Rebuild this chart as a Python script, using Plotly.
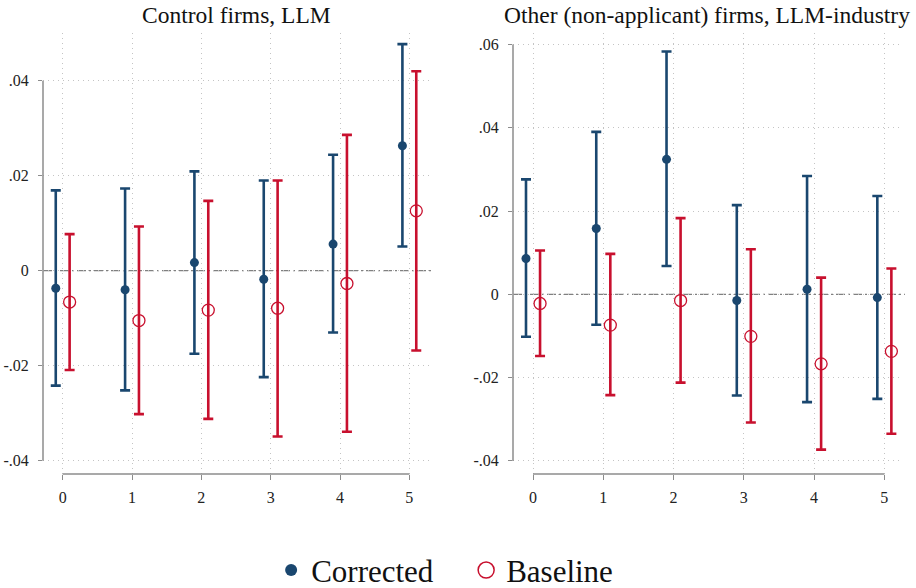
import plotly.graph_objects as go
from plotly.subplots import make_subplots

# ---- data ----
periods = [0, 1, 2, 3, 4, 5]

# Left panel: Control firms, LLM
left_corr_pt = [-0.0037, -0.0040, 0.0017, -0.0018, 0.0056, 0.0263]
left_corr_lo = [-0.0242, -0.0252, -0.0175, -0.0224, -0.0130, 0.0051]
left_corr_hi = [0.0169, 0.0173, 0.0209, 0.0190, 0.0244, 0.0477]
left_base_pt = [-0.0066, -0.0105, -0.0083, -0.0079, -0.0027, 0.0126]
left_base_lo = [-0.0209, -0.0302, -0.0312, -0.0349, -0.0339, -0.0168]
left_base_hi = [0.0077, 0.0093, 0.0147, 0.0190, 0.0286, 0.0420]

# Right panel: Other (non-applicant) firms, LLM-industry
right_corr_pt = [0.0086, 0.0158, 0.0324, -0.0015, 0.0012, -0.0008]
right_corr_lo = [-0.0102, -0.0073, 0.0068, -0.0243, -0.0259, -0.0251]
right_corr_hi = [0.0276, 0.0390, 0.0583, 0.0214, 0.0284, 0.0236]
right_base_pt = [-0.0022, -0.0074, -0.0015, -0.0101, -0.0167, -0.0137]
right_base_lo = [-0.0148, -0.0242, -0.0212, -0.0308, -0.0373, -0.0335]
right_base_hi = [0.0105, 0.0097, 0.0183, 0.0108, 0.0040, 0.0062]

titles = ["Control firms, LLM", "Other (non-applicant) firms, LLM-industry"]
left_yticks = [-0.04, -0.02, 0, 0.02, 0.04]
left_yticklabels = ["-.04", "-.02", "0", ".02", ".04"]
right_yticks = [-0.04, -0.02, 0, 0.02, 0.04, 0.06]
right_yticklabels = ["-.04", "-.02", "0", ".02", ".04", ".06"]
series_names = ["Corrected", "Baseline"]

NAVY = "#1a476f"
RED = "#c8102e"
AXIS_GRAY = "#8c8c8c"
GRID_GRAY = "#c4c4c4"
FONT = "Liberation Serif"
W, H = 916, 588

fig = make_subplots(rows=1, cols=2)

def add_panel(col, cpt, clo, chi, bpt, blo, bhi):
    xc = [p - 0.1 for p in periods]
    xb = [p + 0.1 for p in periods]
    fig.add_trace(go.Scatter(
        x=xc, y=cpt, mode="markers", showlegend=False, cliponaxis=False,
        marker=dict(color=NAVY, size=9, symbol="circle"),
        error_y=dict(type="data", symmetric=False,
                     array=[h - p for h, p in zip(chi, cpt)],
                     arrayminus=[p - l for p, l in zip(cpt, clo)],
                     color=NAVY, thickness=2.6, width=5),
    ), row=1, col=col)
    fig.add_trace(go.Scatter(
        x=xb, y=bpt, mode="markers", showlegend=False, cliponaxis=False,
        marker=dict(color="rgba(255,255,255,0)", size=12, symbol="circle",
                    line=dict(color=RED, width=1.3)),
        error_y=dict(type="data", symmetric=False,
                     array=[h - p for h, p in zip(bhi, bpt)],
                     arrayminus=[p - l for p, l in zip(bpt, blo)],
                     color=RED, thickness=2.6, width=5),
    ), row=1, col=col)

add_panel(1, left_corr_pt, left_corr_lo, left_corr_hi, left_base_pt, left_base_lo, left_base_hi)
add_panel(2, right_corr_pt, right_corr_lo, right_corr_hi, right_base_pt, right_base_lo, right_base_hi)

# legend-only traces (larger symbols as in reference)
fig.add_trace(go.Scatter(x=[None], y=[None], mode="markers", name=series_names[0],
                         marker=dict(color=NAVY, size=12)), row=1, col=1)
fig.add_trace(go.Scatter(x=[None], y=[None], mode="markers", name=series_names[1],
                         marker=dict(color="rgba(255,255,255,0)", size=16,
                                     line=dict(color=RED, width=1.5))), row=1, col=1)

ydom = [1 - 474 / H, 1 - 33 / H]
common_x = dict(tickmode="array", tickvals=periods, ticktext=[str(p) for p in periods],
                ticks="outside", ticklen=5, tickwidth=1.3, tickcolor=AXIS_GRAY,
                showline=False, zeroline=False, showgrid=True, gridcolor=GRID_GRAY,
                griddash="1px,4px", gridwidth=1, ticklabelstandoff=4, automargin=False,
                tickfont=dict(family=FONT, size=16, color="#222"))
common_y = dict(ticks="outside", ticklen=4, tickwidth=1.3, tickcolor=AXIS_GRAY,
                showline=False, zeroline=False, showgrid=True, gridcolor=GRID_GRAY,
                griddash="1px,4px", gridwidth=1, ticklabelstandoff=6, automargin=False,
                tickfont=dict(family=FONT, size=16, color="#222"), domain=ydom)

fig.update_layout(
    xaxis=dict(domain=[43 / W, 430 / W], range=[-0.284, 5.298], **common_x),
    xaxis2=dict(domain=[513 / W, 901 / W], range=[-0.285, 5.237], **common_x),
    yaxis=dict(range=[-0.0428, 0.05004], tickmode="array", tickvals=left_yticks,
               ticktext=left_yticklabels, **common_y),
    yaxis2=dict(range=[-0.04315, 0.06274], tickmode="array", tickvals=right_yticks,
                ticktext=right_yticklabels, **common_y),
)

shapes = []
for xr, yr, ytop in [("x", "y", 0.04), ("x2", "y2", 0.06)]:
    # zero reference line
    shapes.append(dict(type="line", xref=f"{xr} domain", yref=yr, x0=0, x1=1.01, y0=0, y1=0,
                       line=dict(color="#808080", width=1.3, dash="9px,3px,2px,3px"), layer="below"))
    # y axis line spanning the tick range
    shapes.append(dict(type="line", xref=f"{xr} domain", yref=yr, x0=0, x1=0, y0=-0.04, y1=ytop,
                       line=dict(color=AXIS_GRAY, width=1.5)))
    # x axis line spanning the tick range
    shapes.append(dict(type="line", xref=xr, yref=f"{yr} domain", x0=periods[0], x1=periods[-1],
                       y0=0, y1=0, line=dict(color=AXIS_GRAY, width=1.5)))

annotations = []
for xr, t in [("x", titles[0]), ("x2", titles[1])]:
    annotations.append(dict(text=t, xref=f"{xr} domain", x=0.5, yref="paper", y=1 - 15 / H,
                            xanchor="center", yanchor="middle", showarrow=False,
                            font=dict(family=FONT, size=23.5, color="#111")))

fig.update_layout(
    width=W, height=H, margin=dict(l=0, r=0, t=0, b=0, autoexpand=False),
    paper_bgcolor="white", plot_bgcolor="white",
    shapes=shapes, annotations=annotations,
    showlegend=True,
    legend=dict(orientation="h", x=0.296, xanchor="left", y=-0.016, yanchor="bottom",
                font=dict(family=FONT, size=31, color="#111"), bgcolor="rgba(0,0,0,0)",
                itemsizing="trace", entrywidth=150),
    font=dict(family=FONT),
)

fig.write_html("out.html", config={"displayModeBar": False},
               post_script="document.body.style.margin='0';document.body.style.overflow='hidden';")
